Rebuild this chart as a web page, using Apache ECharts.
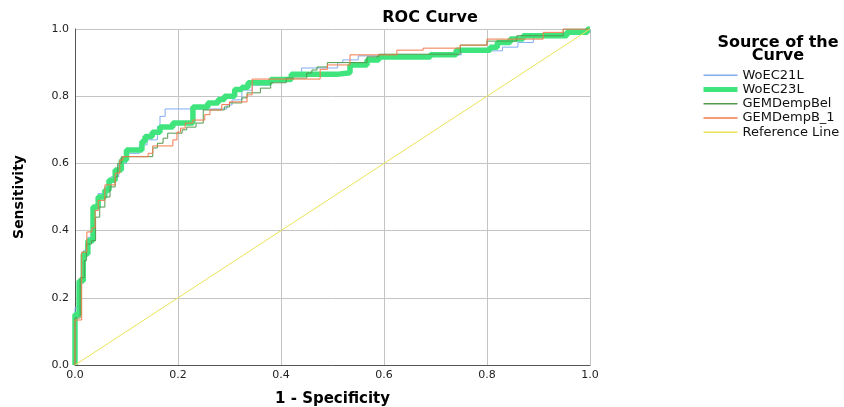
<!DOCTYPE html>
<html lang="en">
<head>
    <meta charset="UTF-8">
    <title>ROC Curve</title>
    <style>
        html, body {
            margin: 0;
            padding: 0;
            background: #fff;
        }

        #chart {
            width: 844px;
            height: 407px;
        }
    </style>
</head>
<body>
<div id="chart"></div>
<script src="https://cdn.jsdelivr.net/npm/echarts@6/dist/echarts.min.js"></script>
<script>

    // [1 - specificity, sensitivity] at each step of the curve
    var woec21l = [
        [0, 0], [0, 0.17], [0.008, 0.25], [0.016, 0.34], [0.025, 0.38], [0.035, 0.47], [0.045, 0.51],
        [0.058, 0.53], [0.07, 0.56], [0.085, 0.6], [0.1, 0.63], [0.125, 0.655], [0.14, 0.67],
        [0.16, 0.71], [0.165, 0.74], [0.175, 0.762], [0.295, 0.774], [0.305, 0.789], [0.324, 0.818],
        [0.344, 0.833], [0.38, 0.85], [0.42, 0.87], [0.44, 0.884], [0.51, 0.9], [0.52, 0.908],
        [0.55, 0.92], [0.7, 0.923], [0.75, 0.935], [0.83, 0.946], [0.86, 0.96], [0.89, 0.975],
        [0.95, 0.99], [1, 1]
    ];
    var woec23l = [
        [0, 0], [0, 0.15], [0.008, 0.25], [0.016, 0.33], [0.025, 0.37], [0.035, 0.47], [0.045, 0.5],
        [0.058, 0.52], [0.066, 0.55], [0.078, 0.58], [0.09, 0.61], [0.1, 0.64], [0.13, 0.665],
        [0.136, 0.68], [0.15, 0.693], [0.165, 0.708], [0.19, 0.72], [0.229, 0.768], [0.258, 0.78],
        [0.278, 0.79], [0.29, 0.8], [0.31, 0.82], [0.324, 0.827], [0.336, 0.84], [0.38, 0.85],
        [0.42, 0.865], [0.508, 0.87], [0.534, 0.893], [0.567, 0.908], [0.59, 0.917], [0.69, 0.923],
        [0.74, 0.937], [0.806, 0.946], [0.82, 0.96], [0.845, 0.97], [0.87, 0.98], [0.955, 0.99],
        [0.995, 1], [1, 1]
    ];
    var gemdempbel = [
        [0, 0], [0, 0.14], [0.01, 0.26], [0.018, 0.31], [0.022, 0.36], [0.032, 0.37], [0.04, 0.44],
        [0.048, 0.47], [0.058, 0.5], [0.068, 0.53], [0.078, 0.56], [0.083, 0.6], [0.09, 0.62],
        [0.151, 0.646], [0.16, 0.66], [0.171, 0.675], [0.18, 0.69], [0.208, 0.7], [0.217, 0.708],
        [0.235, 0.72], [0.249, 0.759], [0.29, 0.768], [0.3, 0.78], [0.324, 0.795], [0.334, 0.81],
        [0.36, 0.824], [0.38, 0.84], [0.41, 0.854], [0.45, 0.869], [0.46, 0.878], [0.47, 0.887],
        [0.49, 0.9], [0.567, 0.917], [0.59, 0.925], [0.748, 0.952], [0.8, 0.964], [0.858, 0.98],
        [0.948, 1], [1, 1]
    ];
    var gemdempb1 = [
        [0, 0], [0, 0.134], [0.013, 0.336], [0.023, 0.396], [0.033, 0.408], [0.039, 0.46],
        [0.045, 0.49], [0.058, 0.536], [0.078, 0.571], [0.087, 0.61], [0.093, 0.62], [0.142, 0.63],
        [0.151, 0.652], [0.19, 0.67], [0.198, 0.693], [0.205, 0.705], [0.214, 0.72], [0.229, 0.729],
        [0.252, 0.745], [0.262, 0.759], [0.285, 0.775], [0.3, 0.783], [0.334, 0.804], [0.344, 0.851],
        [0.476, 0.88], [0.49, 0.893], [0.534, 0.923], [0.625, 0.937], [0.676, 0.943], [0.748, 0.952],
        [0.8, 0.97], [0.909, 0.99], [0.948, 1], [1, 1]
    ];
    var referenceLine = [[0, 0], [1, 1]];

    var seriesNames = ['WoEC21L', 'WoEC23L', 'GEMDempBel', 'GEMDempB_1', 'Reference Line'];
    var tickLabels = ['0.0', '0.2', '0.4', '0.6', '0.8', '1.0'];

    var font = 'DejaVu Sans, Verdana, sans-serif';
    var colors = ['#82aef0', '#3fe57c', '#52994e', '#f4794a', '#ece257'];
    var widths = [1, 5.5, 1, 1, 1];
    var datasets = [woec21l, woec23l, gemdempbel, gemdempb1, referenceLine];

    var tickFormatter = function (v) {
        return tickLabels[Math.round(v * 5)];
    };

    var series = seriesNames.map(function (name, i) {
        return {
            name: name,
            type: 'line',
            step: i < 4 ? 'end' : false,
            showSymbol: false,
            symbol: 'none',
            animation: false,
            data: datasets[i],
            lineStyle: {color: colors[i], width: widths[i]},
            itemStyle: {color: colors[i]}
        };
    });

    var legendData = seriesNames.map(function (name, i) {
        return {name: name, lineStyle: {width: i === 1 ? 5 : 1.5}};
    });

    var option = {
        backgroundColor: '#fff',
        title: [
            {
                text: 'ROC Curve',
                left: 425,
                top: 5,
                textAlign: 'center',
                textStyle: {fontFamily: font, fontSize: 16, fontWeight: 'bold', color: '#000'}
            },
            {
                text: 'Source of the\nCurve',
                left: 773,
                top: 31,
                textAlign: 'center',
                textStyle: {fontFamily: font, fontSize: 16, fontWeight: 'bold', color: '#000', lineHeight: 13}
            }
        ],
        legend: {
            orient: 'vertical',
            left: 696,
            top: 63,
            itemGap: 0,
            itemWidth: 34,
            itemHeight: 10,
            data: legendData,
            itemStyle: {opacity: 0},
            textStyle: {fontFamily: font, fontSize: 13, color: '#111', lineHeight: 14.3}
        },
        grid: {
            left: 75,
            right: 254,
            top: 29,
            bottom: 42,
            outerBoundsMode: 'none'
        },
        xAxis: {
            type: 'value',
            min: 0,
            max: 1,
            interval: 0.2,
            name: '1 - Specificity',
            nameLocation: 'middle',
            nameGap: 27,
            nameTextStyle: {fontFamily: font, fontSize: 15, fontWeight: 'bold', color: '#000'},
            axisLine: {lineStyle: {color: '#555'}},
            axisTick: {show: false},
            axisLabel: {fontFamily: font, fontSize: 11, color: '#222', margin: 5, formatter: tickFormatter},
            splitLine: {show: true, lineStyle: {color: '#c4c4c4'}}
        },
        yAxis: {
            type: 'value',
            min: 0,
            max: 1,
            interval: 0.2,
            name: 'Sensitivity',
            nameLocation: 'middle',
            nameGap: 49,
            nameTextStyle: {fontFamily: font, fontSize: 14, fontWeight: 'bold', color: '#000'},
            axisLine: {show: true, lineStyle: {color: '#555'}},
            axisTick: {show: false},
            axisLabel: {fontFamily: font, fontSize: 11, color: '#222', margin: 6, formatter: tickFormatter},
            splitLine: {show: true, lineStyle: {color: '#c4c4c4'}}
        },
        series: series
    };

    var myChart = echarts.init(document.getElementById('chart'));
    myChart.setOption(option);
</script>
</body>
</html>
